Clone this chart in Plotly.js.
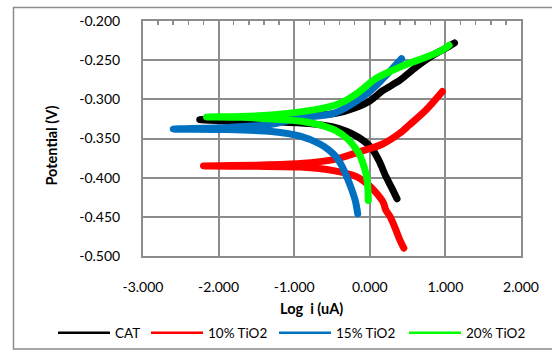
<!DOCTYPE html>
<html>
<head>
<meta charset="utf-8">
<script src="https://cdn.plot.ly/plotly-3.0.1.min.js"></script>
<style>
html,body{margin:0;padding:0;background:#fff;}
#chart{width:552px;height:352px;}
.scatterlayer path.js-line{stroke-linecap:round;stroke-linejoin:round;}
</style>
</head>
<body>
<div id="chart"></div>
<script>
// Series names
const seriesNames = ["CAT", "10% TiO2", "15% TiO2", "20% TiO2"];

// CAT
const catLogI = [0.36, 0.29, 0.21, 0.12, 0.02, -0.14, -0.30, -0.50, -0.80, -1.20, -1.70, -2.25,
                 -1.70, -1.20, -0.80, -0.45, -0.20, 0.00, 0.17, 0.40, 0.61, 0.84, 1.00, 1.12];
const catPot  = [-0.427, -0.413, -0.398, -0.378, -0.362, -0.349, -0.341, -0.335, -0.331, -0.329, -0.328, -0.326,
                 -0.325, -0.323, -0.321, -0.318, -0.311, -0.302, -0.289, -0.2755, -0.259, -0.2435, -0.235, -0.228];

// 10% TiO2
const tio10LogI = [0.45, 0.40, 0.33, 0.27, 0.21, 0.18, 0.09, -0.01, -0.17, -0.48, -0.92, -1.50, -2.20,
                   -1.50, -0.92, -0.48, -0.14, 0.17, 0.40, 0.52, 0.74, 0.96];
const tio10Pot  = [-0.490, -0.480, -0.463, -0.450, -0.441, -0.432, -0.420, -0.410, -0.399, -0.391, -0.3865, -0.3855, -0.385,
                   -0.384, -0.382, -0.377, -0.367, -0.357, -0.343, -0.333, -0.314, -0.290];

// 15% TiO2
const tio15LogI = [-0.16, -0.19, -0.24, -0.30, -0.37, -0.45, -0.55, -0.66, -0.92, -1.30, -1.90, -2.60,
                   -1.90, -1.30, -0.92, -0.48, -0.04, 0.09, 0.22, 0.42];
const tio15Pot  = [-0.446, -0.430, -0.415, -0.400, -0.385, -0.373, -0.364, -0.357, -0.347, -0.341, -0.3385, -0.338,
                   -0.336, -0.332, -0.3235, -0.318, -0.293, -0.282, -0.269, -0.248];

// 20% TiO2
const tio20LogI = [-0.02, -0.025, -0.04, -0.07, -0.12, -0.17, -0.30, -0.45, -0.65, -0.90, -1.30, -1.70, -2.16,
                   -1.70, -1.30, -0.92, -0.60, -0.36, -0.15, 0.08, 0.30, 0.52, 0.75, 0.96, 1.05];
const tio20Pot  = [-0.429, -0.415, -0.400, -0.388, -0.374, -0.365, -0.350, -0.340, -0.333, -0.328, -0.325, -0.323, -0.3225,
                   -0.322, -0.320, -0.316, -0.311, -0.3035, -0.291, -0.2735, -0.263, -0.254, -0.246, -0.237, -0.231];

// Tick labels
const xTickVals = [-3, -2, -1, 0, 1, 2];
const xTickText = ["-3.000", "-2.000", "-1.000", "0.000", "1.000", "2.000"];
const yTickVals = [-0.5, -0.45, -0.4, -0.35, -0.3, -0.25, -0.2];
const yTickText = ["-0.500", "-0.450", "-0.400", "-0.350", "-0.300", "-0.250", "-0.200"];

const colors = ["#000000", "#ff0000", "#0070c0", "#00ff00"];
const xs = [catLogI, tio10LogI, tio15LogI, tio20LogI];
const ys = [catPot, tio10Pot, tio15Pot, tio20Pot];
const legendIds = ["legend", "legend2", "legend3", "legend4"];
const legendX = [53, 146, 274, 404];

const traces = [];
for (let k = 0; k < 4; k++) {
  traces.push({
    x: xs[k], y: ys[k], type: "scatter", mode: "lines",
    line: {color: colors[k], width: 7, shape: "spline", smoothing: 0.8},
    showlegend: false, hoverinfo: "skip"
  });
}
for (let k = 0; k < 4; k++) {
  traces.push({
    x: [null], y: [null], type: "scatter", mode: "lines",
    name: seriesNames[k], legend: legendIds[k],
    line: {color: colors[k], width: 2.5},
    showlegend: true
  });
}
// top axis carrier (minor ticks)
traces.push({x: [null], y: [null], xaxis: "x2", yaxis: "y", showlegend: false, hoverinfo: "skip", type: "scatter", mode: "lines"});

const gridC = "#8c8c8c";
const fam = "Lato, 'Open Sans', sans-serif";
const tickFont = {family: fam, size: 14, color: "#000"};
const legFont = {family: fam, size: 13.5, color: "#000"};

const layout = {
  width: 552, height: 352,
  margin: {l: 143, r: 31, t: 21, b: 96, pad: 0},
  paper_bgcolor: "#fff", plot_bgcolor: "#fff",
  font: tickFont,
  showlegend: true,
  xaxis: {
    range: [-3, 2], tickvals: xTickVals, ticktext: xTickText,
    showgrid: true, gridcolor: gridC, gridwidth: 2,
    showline: true, linecolor: gridC, linewidth: 2, mirror: true,
    zeroline: false, ticks: "", ticklabelstandoff: 17,
    tickfont: tickFont
  },
  xaxis2: {
    range: [-3, 2], overlaying: "x", side: "top", anchor: "y",
    showticklabels: false, showgrid: false, zeroline: false, showline: false,
    tickvals: xTickVals, ticks: "inside", ticklen: 4, tickcolor: gridC, tickwidth: 1.5,
    minor: {dtick: 0.2, tick0: -3, ticks: "inside", ticklen: 4, tickcolor: gridC, tickwidth: 1.5}
  },
  yaxis: {
    range: [-0.5, -0.2], tickvals: yTickVals, ticktext: yTickText,
    showgrid: true, gridcolor: gridC, gridwidth: 2,
    showline: true, linecolor: gridC, linewidth: 2, mirror: true,
    zeroline: false, ticks: "", ticklabelstandoff: 18,
    tickfont: tickFont
  },
  annotations: [
    {text: "Log\u00a0 i (uA)", xref: "paper", yref: "paper", x: 0.447, y: -0.2255,
     xanchor: "center", yanchor: "middle", showarrow: false,
     font: {family: fam, size: 14.5, color: "#000", weight: "bold"}},
    {text: "Potential (V)", xref: "paper", yref: "paper", x: -0.2407, y: 0.47,
     xanchor: "center", yanchor: "middle", showarrow: false, textangle: -90,
     font: {family: fam, size: 14.5, color: "#000", weight: "bold"}}
  ],
  shapes: [
    {type: "rect", xref: "paper", yref: "paper", x0: -0.3426, x1: 1.12, y0: -0.3957, y1: 1.0574,
     line: {color: gridC, width: 1.5}, fillcolor: "rgba(0,0,0,0)", layer: "below"}
  ]
};
for (let k = 0; k < 4; k++) {
  layout[legendIds[k]] = {
    xref: "container", yref: "container",
    x: legendX[k] / 552, xanchor: "left", y: 1 - 333 / 352, yanchor: "middle",
    orientation: "h", font: legFont, bgcolor: "rgba(0,0,0,0)", itemwidth: 52,
    borderwidth: 0
  };
}

Plotly.newPlot("chart", traces, layout, {staticPlot: true, displayModeBar: false});
</script>
</body>
</html>
